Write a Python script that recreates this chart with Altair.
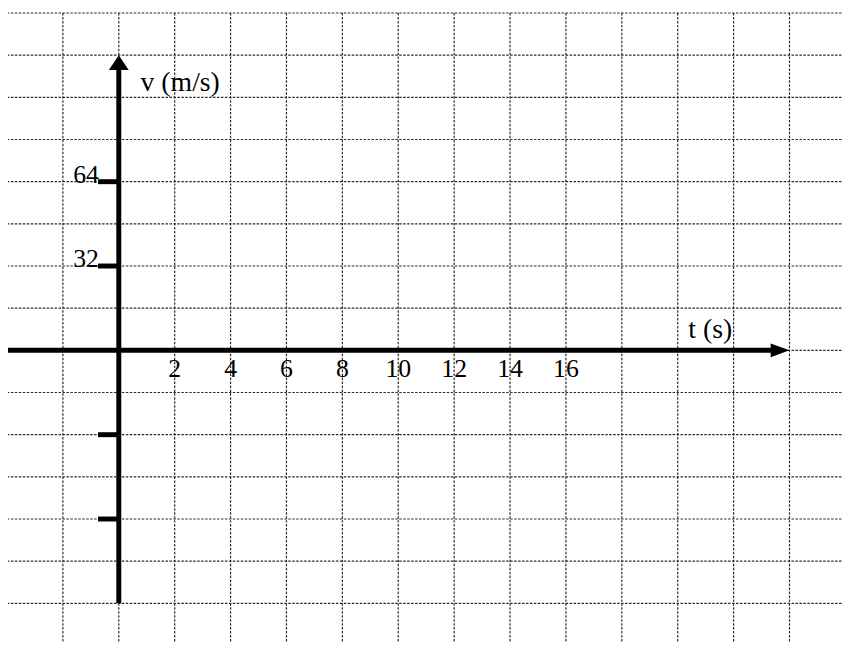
import altair as alt
import pandas as pd

# grid values (t in s, v in m/s)
t_grid = [-4, -2, 0, 2, 4, 6, 8, 10, 12, 14, 16, 18, 20, 22, 24]
v_grid = [128, 112, 96, 80, 64, 48, 32, 16, 0, -16, -32, -48, -64, -80, -96]
grid_v_top, grid_v_bottom = 128, -112
grid_t_left, grid_t_right = -4, 26

# axes extents
t_axis = [-4, 24]
v_axis = [-96, 112]

# tick labels
t_labels = [2, 4, 6, 8, 10, 12, 14, 16]
v_ticks = [64, 32, -32, -64]
v_tick_labels = ["64", "32", "", ""]

FONT = "Liberation Serif"

xs = alt.Scale(domain=[-4, 24], range=[-1, 789])
ys = alt.Scale(domain=[-96, 128], range=[598, 2])

vgrid = pd.DataFrame({"t": t_grid, "v0": grid_v_top, "v1": grid_v_bottom})
hgrid = pd.DataFrame({"v": v_grid, "t0": grid_t_left, "t1": grid_t_right})

dash = [2.5, 1.5]
grid_color = "#2a2a2a"
grid_v = alt.Chart(vgrid).mark_rule(color=grid_color, strokeWidth=1.2, strokeDash=dash, clip=True).encode(
    x=alt.X("t:Q", scale=xs, axis=None),
    y=alt.Y("v0:Q", scale=ys, axis=None),
    y2="v1:Q",
)
grid_h = alt.Chart(hgrid).mark_rule(color=grid_color, strokeWidth=1.2, strokeDash=dash, clip=True).encode(
    y=alt.Y("v:Q", scale=ys, axis=None),
    x=alt.X("t0:Q", scale=xs, axis=None),
    x2="t1:Q",
)

xaxis_df = pd.DataFrame({"t0": [t_axis[0]], "t1": [t_axis[1]], "v": [0]})
yaxis_df = pd.DataFrame({"v0": [v_axis[1]], "v1": [v_axis[0]], "t": [0]})

x_axis = alt.Chart(xaxis_df).mark_rule(color="black", strokeWidth=5, x2Offset=-12).encode(
    x=alt.X("t0:Q", scale=xs, axis=None), x2="t1:Q", y=alt.Y("v:Q", scale=ys, axis=None)
)
y_axis = alt.Chart(yaxis_df).mark_rule(color="black", strokeWidth=5, yOffset=12).encode(
    y=alt.Y("v0:Q", scale=ys, axis=None), y2="v1:Q", x=alt.X("t:Q", scale=xs, axis=None)
)

x_arrow = alt.Chart(pd.DataFrame({"t": [t_axis[1]], "v": [0]})).mark_point(
    shape="M0,0L-1.9,-0.7L-1.9,0.7Z", size=400, filled=True, color="black", opacity=1, strokeWidth=0
).encode(x=alt.X("t:Q", scale=xs, axis=None), y=alt.Y("v:Q", scale=ys, axis=None))
y_arrow = alt.Chart(pd.DataFrame({"t": [0], "v": [v_axis[1]]})).mark_point(
    shape="M0,0L-1,1.5L1,1.5Z", size=400, filled=True, color="black", opacity=1, strokeWidth=0
).encode(x=alt.X("t:Q", scale=xs, axis=None), y=alt.Y("v:Q", scale=ys, axis=None))

ticks_df = pd.DataFrame({"v": v_ticks, "t": 0, "label": v_tick_labels})
y_ticks = alt.Chart(ticks_df).mark_rule(color="black", strokeWidth=5, x2Offset=-21).encode(
    x=alt.X("t:Q", scale=xs, axis=None), x2="t:Q", y=alt.Y("v:Q", scale=ys, axis=None)
)
y_labels = alt.Chart(ticks_df).mark_text(
    align="right", baseline="alphabetic", dx=-20, dy=1, font=FONT, fontSize=26, color="black"
).encode(x=alt.X("t:Q", scale=xs, axis=None), y=alt.Y("v:Q", scale=ys, axis=None), text="label:N")

xl_df = pd.DataFrame({"t": t_labels, "v": 0, "label": [str(t) for t in t_labels]})
x_labels = alt.Chart(xl_df).mark_text(
    align="center", baseline="alphabetic", dy=27, font=FONT, fontSize=26, color="black"
).encode(x=alt.X("t:Q", scale=xs, axis=None), y=alt.Y("v:Q", scale=ys, axis=None), text="label:N")

v_title = alt.Chart(pd.DataFrame({"t": [0], "v": [v_axis[1]], "label": ["v (m/s)"]})).mark_text(
    align="center", baseline="alphabetic", dx=62, dy=36, font=FONT, fontSize=28, color="black"
).encode(x=alt.X("t:Q", scale=xs, axis=None), y=alt.Y("v:Q", scale=ys, axis=None), text="label:N")
t_title = alt.Chart(pd.DataFrame({"t": [t_axis[1]], "v": [0], "label": ["t (s)"]})).mark_text(
    align="center", baseline="alphabetic", dx=-80, dy=-12, font=FONT, fontSize=28, color="black"
).encode(x=alt.X("t:Q", scale=xs, axis=None), y=alt.Y("v:Q", scale=ys, axis=None), text="label:N")

chart = alt.layer(
    grid_v, grid_h, x_axis, y_axis, x_arrow, y_arrow, y_ticks, y_labels, x_labels, v_title, t_title
).properties(
    width=842, height=638, autosize=alt.AutoSizeParams(type="none"), padding=0, background="white"
).configure_view(strokeWidth=0)

chart.save("out.html", embed_options={"renderer": "svg", "actions": False})
